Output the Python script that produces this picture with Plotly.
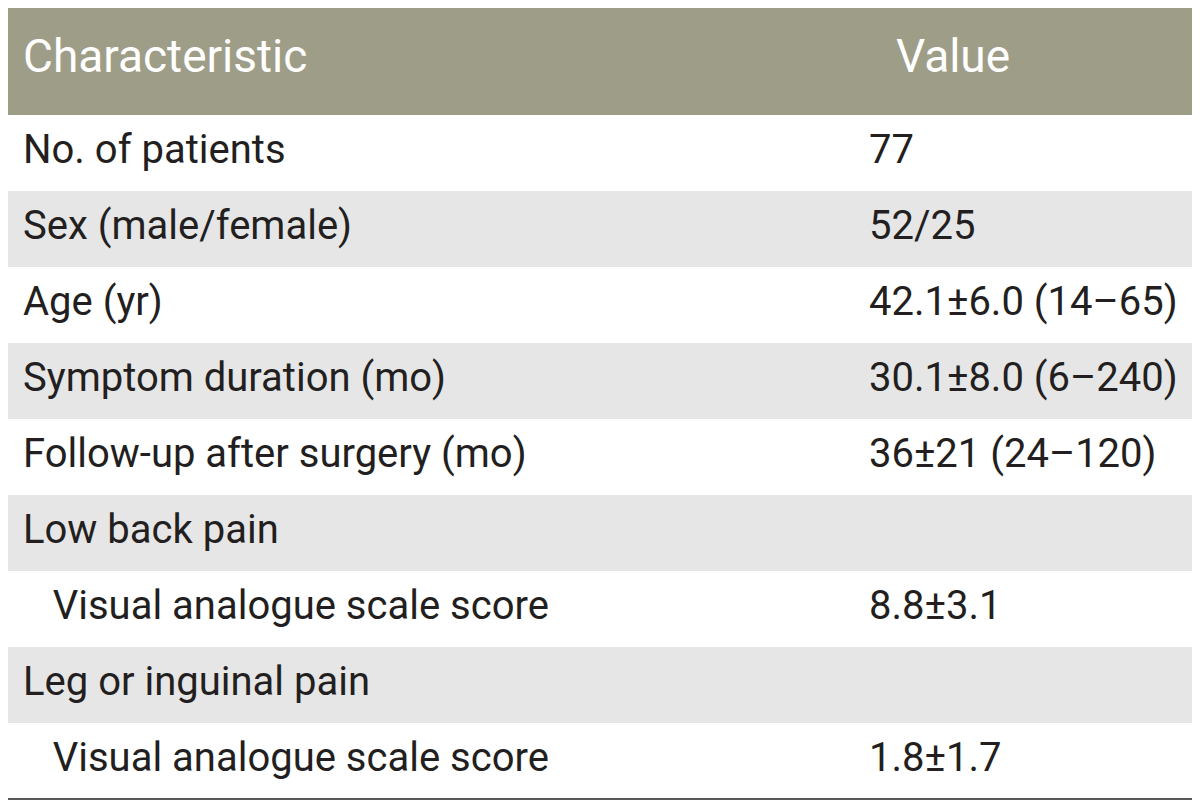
import plotly.graph_objects as go

header = ['Characteristic', 'Value']
characteristics = [
    'No. of patients',
    'Sex (male/female)',
    'Age (yr)',
    'Symptom duration (mo)',
    'Follow-up after surgery (mo)',
    'Low back pain',
    '\u00a0\u00a0\u00a0Visual analogue scale score',
    'Leg or inguinal pain',
    '\u00a0\u00a0\u00a0Visual analogue scale score',
]
values = [
    '77',
    '52/25',
    '42.1±6.0 (14–65)',
    '30.1±8.0 (6–240)',
    '36±21 (24–120)',
    '',
    '8.8±3.1',
    '',
    '1.8±1.7',
]

# layout in screen pixels; the page body has an 8px margin, so the axes
# are shifted by that much to keep data units == screen pixels
W, H = 1200, 806
page_off = 8
left, right, top = 7, 1193, 5
head_h, row_h = 110, 76
text_x, value_x, head_value_x = 23, 869, 953

head_col = '#9e9d87'
stripe = '#e6e6e6'
ink = '#231f20'
font = 'Roboto, Liberation Sans, Arial, sans-serif'

n = len(characteristics)
head_y = top + head_h / 2
row_y = [top + head_h + row_h * (i + 0.5) for i in range(n)]
bottom = top + head_h + row_h * n
row_fill = ['white' if i % 2 == 0 else stripe for i in range(n)]

fig = go.Figure()

# row backgrounds
fig.add_trace(go.Bar(
    orientation='h',
    y=[head_y] + row_y,
    x=[right - left] * (n + 1),
    base=left,
    width=[head_h] + [row_h] * n,
    marker=dict(color=[head_col] + row_fill, line=dict(width=0)),
    hoverinfo='skip', showlegend=False,
))

# header text
fig.add_trace(go.Scatter(
    x=[text_x], y=[head_y], mode='text', text=[header[0]],
    textposition='middle right',
    textfont=dict(family=font, size=46, color='white'),
    hoverinfo='skip', showlegend=False,
))
fig.add_trace(go.Scatter(
    x=[head_value_x], y=[head_y], mode='text', text=[header[1]],
    textposition='middle center',
    textfont=dict(family=font, size=46, color='white'),
    hoverinfo='skip', showlegend=False,
))

# body text
fig.add_trace(go.Scatter(
    x=[text_x] * n, y=row_y, mode='text', text=characteristics,
    textposition='middle right',
    textfont=dict(family=font, size=40, color=ink),
    hoverinfo='skip', showlegend=False,
))
fig.add_trace(go.Scatter(
    x=[value_x] * n, y=row_y, mode='text', text=values,
    textposition='middle right',
    textfont=dict(family=font, size=40, color=ink),
    hoverinfo='skip', showlegend=False,
))

# closing rule under the table
fig.add_shape(type='line', x0=left, x1=right, y0=bottom, y1=bottom,
              line=dict(color=ink, width=1.5))

fig.update_xaxes(range=[page_off, W + page_off], visible=False, fixedrange=True)
fig.update_yaxes(range=[H + page_off, page_off], visible=False, fixedrange=True)
fig.update_layout(width=W, height=H,
                  margin=dict(l=0, r=0, t=0, b=0),
                  paper_bgcolor='white', plot_bgcolor='white',
                  barmode='overlay')

fig.write_html('out.html')
